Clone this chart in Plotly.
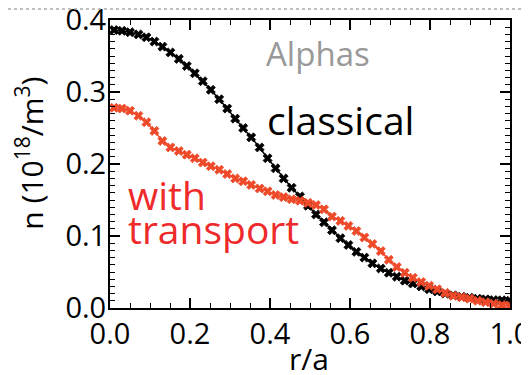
import plotly.graph_objects as go

# r/a grid (50 radial points)
r_a = [0.010, 0.030, 0.050, 0.071, 0.091, 0.111, 0.131, 0.151, 0.172, 0.192,
       0.212, 0.232, 0.252, 0.273, 0.293, 0.313, 0.333, 0.353, 0.374, 0.394,
       0.414, 0.434, 0.454, 0.475, 0.495, 0.515, 0.535, 0.555, 0.576, 0.596,
       0.616, 0.636, 0.656, 0.677, 0.697, 0.717, 0.737, 0.757, 0.778, 0.798,
       0.818, 0.838, 0.858, 0.879, 0.899, 0.919, 0.939, 0.959, 0.980, 1.000]

# alpha density, classical (10^18 / m^3)
n_classical = [0.386, 0.385, 0.383, 0.380, 0.376, 0.370, 0.363, 0.355, 0.346, 0.336,
               0.326, 0.315, 0.303, 0.290, 0.277, 0.263, 0.250, 0.237, 0.223, 0.208,
               0.194, 0.180, 0.167, 0.155, 0.142, 0.130, 0.119, 0.108, 0.097, 0.0875,
               0.078, 0.070, 0.062, 0.055, 0.049, 0.0435, 0.038, 0.034, 0.030, 0.026,
               0.023, 0.020, 0.0176, 0.0157, 0.0143, 0.0129, 0.012, 0.011, 0.0107, 0.010]

# alpha density, with transport (10^18 / m^3)
n_transport = [0.278, 0.277, 0.274, 0.267, 0.258, 0.246, 0.232, 0.223, 0.218, 0.213,
               0.208, 0.202, 0.197, 0.192, 0.186, 0.180, 0.176, 0.171, 0.166, 0.162,
               0.157, 0.154, 0.151, 0.149, 0.146, 0.143, 0.137, 0.127, 0.121, 0.114,
               0.107, 0.098, 0.089, 0.079, 0.067, 0.057, 0.049, 0.042, 0.036, 0.031,
               0.026, 0.021, 0.017, 0.015, 0.013, 0.010, 0.008, 0.006, 0.004, 0.003]

x_ticks = [0.0, 0.2, 0.4, 0.6, 0.8, 1.0]
x_tick_labels = ["0.0", "0.2", "0.4", "0.6", "0.8", "1.0"]
y_ticks = [0.0, 0.1, 0.2, 0.3, 0.4]
y_tick_labels = ["0.0", "0.1", "0.2", "0.3", "0.4"]

FONT = "Open Sans"
RED = "#EE4A2A"

fig = go.Figure()
fig.add_trace(go.Scatter(
    x=r_a, y=n_classical, mode="lines+markers", name="classical",
    line=dict(color="black", width=1.5),
    marker=dict(symbol="x", size=8, color="black",
                line=dict(width=0.8, color="black")),
))
fig.add_trace(go.Scatter(
    x=r_a, y=n_transport, mode="lines+markers", name="with transport",
    line=dict(color=RED, width=1.5),
    marker=dict(symbol="x", size=8, color=RED,
                line=dict(width=0.8, color=RED)),
))

axis_common = dict(
    showline=True, linecolor="black", linewidth=2, mirror="allticks",
    ticks="inside", ticklen=10, tickwidth=1.5, tickcolor="black",
    showgrid=False, zeroline=False, ticklabeloverflow="allow",
    automargin=False,
    tickfont=dict(family=FONT, size=29, color="black"),
)

fig.update_xaxes(range=[0, 1.0], tickvals=x_ticks, ticktext=x_tick_labels,
                 ticklabelstandoff=-1,
                 minor=dict(dtick=0.05, ticks="inside", ticklen=5, tickwidth=1.2,
                            tickcolor="black", showgrid=False),
                 **axis_common)
fig.update_yaxes(range=[0, 0.4], tickvals=y_ticks, ticktext=y_tick_labels,
                 ticklabelstandoff=-4,
                 minor=dict(dtick=0.01, ticks="inside", ticklen=5, tickwidth=1.2,
                            tickcolor="black", showgrid=False),
                 **axis_common)

ann = []
ann.append(dict(text="Alphas", x=0.52, y=0.354, xref="x", yref="y",
                showarrow=False, xanchor="center", yanchor="middle",
                font=dict(family=FONT, size=33, color="#999999")))
ann.append(dict(text="classical", x=0.575, y=0.262, xref="x", yref="y",
                showarrow=False, xanchor="center", yanchor="middle",
                font=dict(family=FONT, size=39, color="black")))
ann.append(dict(text="with", x=0.04, y=0.158, xref="x", yref="y",
                showarrow=False, xanchor="left", yanchor="middle",
                font=dict(family=FONT, size=39, color="#EE2A2A")))
ann.append(dict(text="transport", x=0.04, y=0.110, xref="x", yref="y",
                showarrow=False, xanchor="left", yanchor="middle",
                font=dict(family=FONT, size=39, color="#EE2A2A")))
ann.append(dict(text="n (10<sup>18</sup>/m<sup>3</sup>)", x=-0.2, y=0.536,
                xref="paper", yref="paper", textangle=-90,
                showarrow=False, xanchor="center", yanchor="middle",
                font=dict(family=FONT, size=30, color="black")))
ann.append(dict(text="r/a", x=0.4975, y=-0.175, xref="paper", yref="paper",
                showarrow=False, xanchor="center", yanchor="middle",
                font=dict(family=FONT, size=30, color="black")))

# page body has an 8px margin; margins below place the plot box at
# page pixels x 110..510, y 20..308
fig.update_layout(
    width=529, height=375,
    margin=dict(l=102, r=27, t=12, b=75, autoexpand=False),
    paper_bgcolor="white", plot_bgcolor="white",
    showlegend=False,
    annotations=ann,
    shapes=[dict(type="line", xref="paper", yref="paper",
                 x0=-0.255, x1=1.0675, y0=1.038, y1=1.038,
                 line=dict(color="#AAAAAA", width=1.5, dash="dot"))],
)

fig.write_html("out.html", config={"displayModeBar": False})
